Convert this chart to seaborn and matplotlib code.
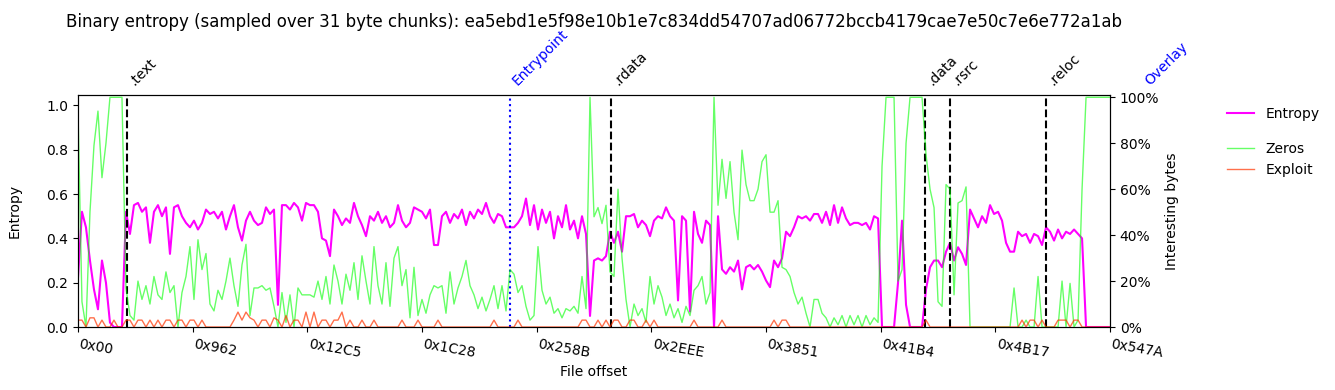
import numpy as np
import pandas as pd
import matplotlib
matplotlib.use("Agg")
import matplotlib.pyplot as plt
import seaborn as sns
from matplotlib.lines import Line2D
from matplotlib.ticker import PercentFormatter

# Data (one value every ~84 bytes)
file_size = 21626
title = ("Binary entropy (sampled over 31 byte chunks): "
         "ea5ebd1e5f98e10b1e7c834dd54707ad06772bccb4179cae7e50c7e6e772a1ab")

entropy = [
    0.22, 0.52, 0.45, 0.30, 0.17, 0.08, 0.30, 0.20, 0.02, 0.0, 0.0, 0.0, 0.52,
    0.42, 0.55, 0.56, 0.52, 0.54, 0.38, 0.52, 0.55, 0.50, 0.54,
    0.33, 0.54, 0.55, 0.50, 0.47, 0.45, 0.48, 0.44, 0.47, 0.53,
    0.51, 0.52, 0.49, 0.52, 0.44, 0.50, 0.55, 0.45, 0.39, 0.48, 0.52,
    0.48, 0.46, 0.47, 0.54, 0.51, 0.53, 0.10, 0.55, 0.55, 0.53,
    0.56, 0.54, 0.48, 0.56, 0.55, 0.55, 0.52, 0.40, 0.39, 0.32,
    0.53, 0.50, 0.46, 0.49, 0.47, 0.56, 0.50, 0.46, 0.41, 0.50,
    0.48, 0.52, 0.47, 0.50, 0.45, 0.47, 0.55, 0.48, 0.45, 0.47,
    0.54, 0.53,
    0.52, 0.49, 0.53, 0.37, 0.37, 0.50, 0.52, 0.47, 0.51, 0.49,
    0.53, 0.46, 0.52, 0.49, 0.53, 0.51, 0.56, 0.50, 0.47, 0.51,
    0.50, 0.45, 0.45, 0.45, 0.47, 0.50, 0.58, 0.46, 0.55, 0.44,
    0.53, 0.47, 0.52, 0.40, 0.50, 0.45, 0.55, 0.44, 0.48, 0.40,
    0.50, 0.42, 0.05,
    0.30, 0.31, 0.30, 0.32, 0.43, 0.38, 0.43, 0.34, 0.50, 0.50,
    0.51, 0.45, 0.48, 0.46, 0.41, 0.48, 0.50, 0.49, 0.54, 0.50,
    0.48, 0.12, 0.50, 0.48, 0.07, 0.52, 0.42, 0.38, 0.48, 0.46,
    0.0, 0.50, 0.26, 0.24, 0.27, 0.25, 0.30, 0.17, 0.27, 0.28,
    0.26, 0.28, 0.25,
    0.21, 0.18, 0.30, 0.27, 0.31, 0.43, 0.41, 0.45, 0.50, 0.49,
    0.50, 0.48, 0.51, 0.51, 0.47, 0.52, 0.46, 0.55, 0.47, 0.54,
    0.49, 0.46, 0.47, 0.47, 0.46, 0.47, 0.44, 0.50, 0.49, 0.0,
    0.0, 0.0, 0.0, 0.20, 0.48, 0.10, 0.0, 0.0, 0.0, 0.0,
    0.17, 0.27, 0.30,
    0.30, 0.27, 0.34, 0.38, 0.30, 0.36, 0.33, 0.28, 0.53, 0.49,
    0.45, 0.50, 0.47, 0.55, 0.51, 0.52, 0.48, 0.38, 0.34, 0.34,
    0.43, 0.41, 0.42, 0.38, 0.42, 0.41, 0.37, 0.45, 0.43, 0.39,
    0.44, 0.40, 0.43, 0.42, 0.44, 0.42, 0.40, 0.0, 0.0, 0.0,
    0.0, 0.0, 0.0, 0.0,
]

zeros = [
    0.95, 0.11, 0.0, 0.50, 0.79, 0.94, 0.65, 0.80, 1.0, 1.0, 1.0, 1.0, 0.17,
    0.05, 0.03, 0.20, 0.12, 0.18, 0.10, 0.22, 0.14, 0.12, 0.24,
    0.15, 0.18, 0.0, 0.15, 0.22, 0.35, 0.12, 0.38, 0.25, 0.32,
    0.10, 0.07, 0.16, 0.12, 0.20, 0.30, 0.18, 0.09, 0.27, 0.36,
    0.05,
    0.17, 0.17, 0.18, 0.16, 0.17, 0.09, 0.0, 0.15, 0.02, 0.14,
    0.0, 0.17, 0.14, 0.14, 0.14, 0.13, 0.20, 0.12, 0.22, 0.10,
    0.27, 0.20, 0.10, 0.23, 0.16, 0.28, 0.12, 0.31, 0.20, 0.10,
    0.35, 0.18, 0.10, 0.28, 0.09, 0.30, 0.35, 0.18, 0.25, 0.04,
    0.26, 0.05,
    0.12, 0.06, 0.14, 0.18, 0.17, 0.18, 0.06, 0.24, 0.10, 0.17,
    0.22, 0.29, 0.18, 0.14, 0.08, 0.13, 0.07, 0.12, 0.18, 0.08,
    0.18, 0.07, 0.25, 0.23, 0.15, 0.18, 0.09, 0.03, 0.05, 0.35,
    0.16, 0.10, 0.13, 0.06, 0.08, 0.04, 0.08, 0.07, 0.09, 0.06,
    0.22, 0.08, 1.0,
    0.48, 0.52, 0.45, 0.53, 0.24, 0.22, 0.60, 0.30, 0.12, 0.0,
    0.10, 0.05, 0.08, 0.02, 0.22, 0.10, 0.18, 0.13, 0.05, 0.10,
    0.04, 0.08, 0.02, 0.09, 0.05, 0.16, 0.18, 0.22, 0.10, 0.15,
    1.0, 0.53, 0.73, 0.56, 0.72, 0.50, 0.38, 0.77, 0.62, 0.55,
    0.55, 0.60, 0.72,
    0.75, 0.50, 0.50, 0.55, 0.26, 0.25, 0.22, 0.15, 0.10, 0.13,
    0.06, 0.0, 0.12, 0.12, 0.06, 0.04, 0.0, 0.04, 0.01, 0.05,
    0.0, 0.05, 0.01, 0.05, 0.0, 0.05, 0.01, 0.04, 0.02, 0.70,
    1.0, 1.0, 1.0, 0.20, 0.25, 0.80, 1.0, 1.0, 1.0, 1.0,
    0.75, 0.60, 0.52,
    0.11, 0.09, 0.62, 0.60, 0.14, 0.54, 0.55, 0.61, 0.0, 0.0,
    0.0, 0.0, 0.0, 0.0, 0.0, 0.0, 0.0, 0.0, 0.0, 0.17,
    0.0, 0.0, 0.03, 0.0, 0.0, 0.22, 0.0, 0.0, 0.0, 0.0,
    0.0, 0.20, 0.0, 0.19, 0.0, 0.03, 0.60, 1.0, 1.0, 1.0,
    1.0, 1.0, 1.0, 1.0,
]

exploit = [
    0.03, 0.03, 0.0, 0.04, 0.04, 0.0, 0.03, 0.0, 0.0, 0.03, 0.0, 0.0, 0.03,
    0.03, 0.0, 0.03, 0.03, 0.0, 0.03, 0.0, 0.03, 0.0, 0.03,
    0.03, 0.0, 0.03, 0.03, 0.0, 0.03, 0.03, 0.0, 0.03, 0.0,
    0.0, 0.0, 0.0, 0.0, 0.0, 0.0, 0.03, 0.065, 0.03, 0.065,
    0.04,
    0.03, 0.0, 0.03, 0.03, 0.0, 0.04, 0.03, 0.0, 0.05, 0.0,
    0.03, 0.03, 0.0, 0.065, 0.0, 0.065, 0.0, 0.03, 0.03, 0.0,
    0.03, 0.03, 0.065, 0.0, 0.03, 0.0, 0.0, 0.03, 0.0, 0.0,
    0.03, 0.0, 0.0, 0.0, 0.0, 0.0, 0.0, 0.03, 0.0, 0.0,
    0.0, 0.03,
    0.0, 0.0, 0.0, 0.0, 0.03, 0.0, 0.0, 0.0, 0.0, 0.0,
    0.0, 0.0, 0.0, 0.0, 0.0, 0.0, 0.0, 0.0, 0.03, 0.0,
    0.0, 0.0, 0.0, 0.0, 0.03, 0.0, 0.0, 0.0, 0.0, 0.0,
    0.0, 0.0, 0.0, 0.0, 0.0, 0.0, 0.0, 0.0, 0.0, 0.0,
    0.03, 0.03, 0.0,
    0.0, 0.03, 0.0, 0.03, 0.0, 0.03, 0.03, 0.0, 0.0, 0.03,
    0.03, 0.0, 0.0, 0.03, 0.0, 0.03, 0.0, 0.0, 0.0, 0.0,
    0.0, 0.0, 0.0, 0.0, 0.0, 0.03, 0.0, 0.0, 0.0, 0.0,
    0.0, 0.0, 0.03, 0.0, 0.0, 0.0, 0.0, 0.0, 0.0, 0.0,
    0.0, 0.0, 0.0,
    0.0, 0.0, 0.03, 0.0, 0.03, 0.03, 0.0, 0.0, 0.0, 0.0,
    0.0, 0.0, 0.0, 0.0, 0.0, 0.0, 0.0, 0.0, 0.0, 0.0,
    0.0, 0.0, 0.0, 0.0, 0.0, 0.0, 0.0, 0.0, 0.0, 0.0,
    0.0, 0.0, 0.0, 0.0, 0.0, 0.0, 0.0, 0.0, 0.0, 0.0,
    0.03, 0.0, 0.0,
    0.0, 0.0, 0.0, 0.0, 0.0, 0.0, 0.0, 0.0, 0.0, 0.0,
    0.0, 0.0, 0.0, 0.0, 0.0, 0.0, 0.0, 0.0, 0.0, 0.0,
    0.0, 0.03, 0.0, 0.03, 0.03, 0.0, 0.03, 0.0, 0.0, 0.0,
    0.03, 0.03, 0.03, 0.0, 0.03, 0.03, 0.0, 0.0, 0.0, 0.0,
    0.0, 0.0, 0.0, 0.0,
]

section_names = [".text", ".rdata", ".data", ".rsrc", ".reloc"]
section_offsets = [1024, 11169, 17743, 18267, 20279]
entrypoint_offset = 9053
overlay_offset = 22296

# 1. Build the frame
offsets = np.linspace(0, file_size, len(entropy))
df = pd.DataFrame({"offset": offsets, "entropy": entropy,
                   "zeros": zeros, "exploit": exploit})

# 2. Plot
fig, ax1 = plt.subplots(figsize=(13.35, 3.9), dpi=100)
fig.subplots_adjust(left=0.0584, right=0.8315, bottom=0.1615, top=0.7564)

sns.lineplot(data=df, x="offset", y="entropy", ax=ax1, color="magenta", linewidth=1.5)
ax2 = ax1.twinx()
sns.lineplot(data=df, x="offset", y="zeros", ax=ax2, color="lime", alpha=0.6, linewidth=1.0)
sns.lineplot(data=df, x="offset", y="exploit", ax=ax2, color="#ff3300", alpha=0.7, linewidth=1.0)

ax1.set_xlim(0, file_size)
ax1.set_ylim(0, 1.047)
ax2.set_ylim(0, 1.01)
ax1.set_yticks(np.arange(0, 1.01, 0.2))
ax2.set_yticks(np.arange(0, 1.01, 0.2))
ax2.yaxis.set_major_formatter(PercentFormatter(1.0, decimals=0))

ticks = np.linspace(0, file_size, 10)
ax1.set_xticks(ticks)
ax1.set_xticklabels([f"0x{int(t):02X}" for t in ticks], rotation=-10, ha="left")

ax1.set_xlabel("File offset")
ax1.set_ylabel("Entropy", labelpad=18)
ax2.set_ylabel("Interesting bytes")
ax1.set_title(title, fontsize=12, pad=49)

# section markers
trans = ax1.get_xaxis_transform()
for name, off in zip(section_names, section_offsets):
    ax1.axvline(off, color="black", linestyle="--", linewidth=1.5)
    ax1.text(off, 1.03, name, transform=trans, rotation=45, ha="left", va="bottom")
ax1.axvline(entrypoint_offset, color="blue", linestyle=":", linewidth=1.5)
ax1.text(entrypoint_offset, 1.03, "Entrypoint", transform=trans, rotation=45,
         ha="left", va="bottom", color="blue")
ax1.text(overlay_offset, 1.03, "Overlay", transform=trans, rotation=45,
         ha="left", va="bottom", color="blue")

# legends outside on the right
fig.legend(handles=[Line2D([], [], color="magenta", linewidth=1.5)], labels=["Entropy"],
           loc="center left", bbox_to_anchor=(0.9095, 0.708), frameon=False)
fig.legend(handles=[Line2D([], [], color="lime", alpha=0.6, linewidth=1.0),
                    Line2D([], [], color="#ff3300", alpha=0.7, linewidth=1.0)],
           labels=["Zeros", "Exploit"],
           loc="center left", bbox_to_anchor=(0.9095, 0.591), frameon=False)

plt.savefig("out.png", dpi=100)
